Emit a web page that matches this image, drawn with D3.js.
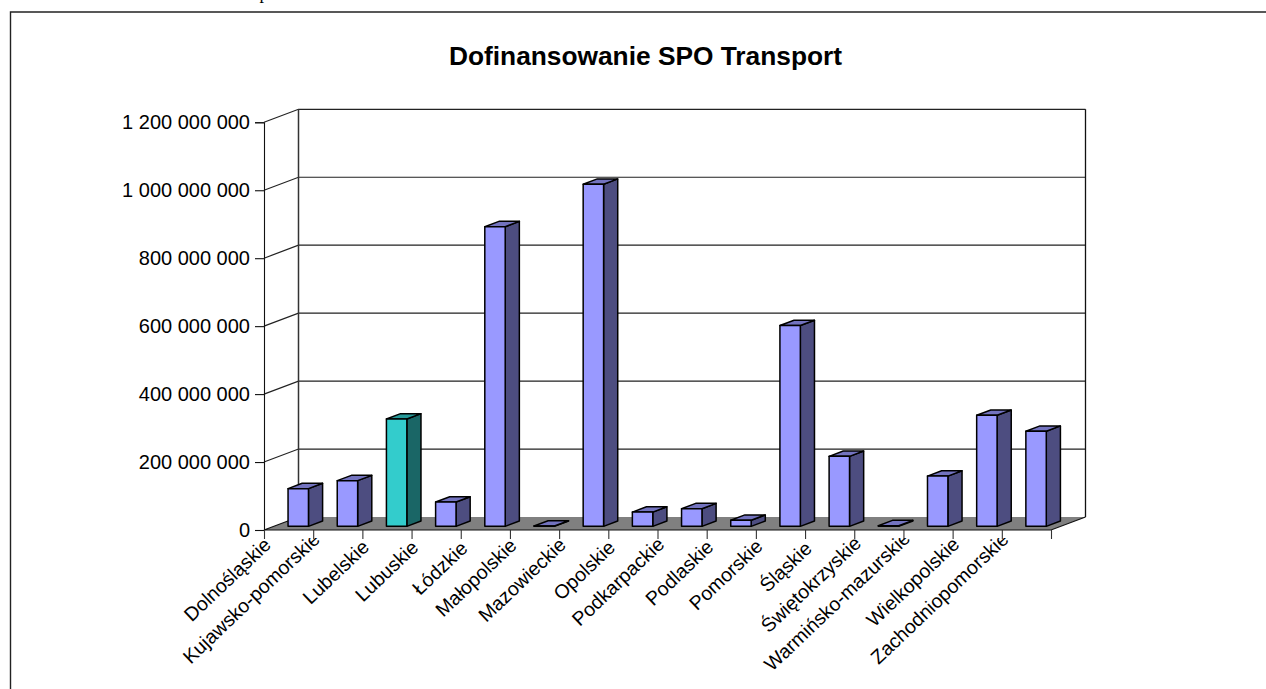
<!DOCTYPE html>
<html>
<head>
<meta charset="utf-8">
<script src="https://d3js.org/d3.v7.min.js"></script>
<style>
    html, body { margin: 0; padding: 0; background: #fff; overflow: hidden; }
    svg { display: block; }
    text { font-family: "Liberation Sans", Arial, sans-serif; fill: #000; }
</style>
</head>
<body>
<div id="chart"></div>
<script>
    var WIDTH = 1266;
    var HEIGHT = 689;
    var DEPTH_X = 34.5;
    var DEPTH_Y = 13;
    var BAR_WIDTH = 0.415;   // share of a category band
    var BAR_Z0 = 0.28;       // front of a bar inside the floor depth
    var BAR_Z1 = 0.69;       // back of a bar
    var LABEL_ANGLE = -43.5;
    var LABEL_CLIP_Y = 538;  // category labels get cut off just under the ticks

    var title = 'Dofinansowanie SPO Transport';
    var categories = ['Dolnośląskie', 'Kujawsko-pomorskie', 'Lubelskie', 'Lubuskie', 'Łódzkie', 'Małopolskie',
        'Mazowieckie', 'Opolskie', 'Podkarpackie', 'Podlaskie', 'Pomorskie', 'Śląskie', 'Świętokrzyskie',
        'Warmińsko-mazurskie', 'Wielkopolskie', 'Zachodniopomorskie'];
    var funding = [111000000, 134500000, 316000000, 71500000, 882000000, 1000000, 1007000000, 42000000,
        52000000, 18000000, 591000000, 206000000, 2000000, 148000000, 327000000, 280000000];
    var yTicks = [0, 200000000, 400000000, 600000000, 800000000, 1000000000, 1200000000];
    var highlighted = ['Lubelskie'];

    var fmt = d3.formatLocale({ decimal: ',', thousands: ' ', grouping: [3], currency: ['', ''] }).format(',d');

    var svg = d3.select('#chart').append('svg')
        .attr('width', WIDTH)
        .attr('height', HEIGHT);

    var x = d3.scaleLinear().domain([0, categories.length]).range([264, 1051]);
    var y = d3.scaleLinear().domain([0, 1200000000]).range([530, 122.3]);

    // position in the box: i along the categories, v up the value axis, z into the depth (0-1)
    function project(i, v, z) {
        return [x(i) + z * DEPTH_X, y(v) - z * DEPTH_Y];
    }
    var poly = d3.line();

    // cut off line of text above the frame
    svg.append('text')
        .attr('x', 264)
        .attr('y', -1.5)
        .attr('text-anchor', 'middle')
        .style('font-family', '"Liberation Serif", serif')
        .style('font-size', '18px')
        .text('p');

    // outer frame, runs off the right and bottom edge
    svg.append('path')
        .attr('d', 'M10.5,' + HEIGHT + 'V12H' + WIDTH)
        .attr('fill', 'none')
        .attr('stroke', '#222')
        .attr('stroke-width', 1.4);

    svg.append('text')
        .attr('x', 645.5)
        .attr('y', 65)
        .attr('text-anchor', 'middle')
        .style('font-size', '26.3px')
        .style('font-weight', 'bold')
        .text(title);

    var n = categories.length;
    var maxV = yTicks[yTicks.length - 1];

    // gridlines on the back wall and the left wall
    svg.append('g').selectAll('path')
        .data(yTicks.slice(1))
        .enter()
        .append('path')
        .attr('d', function (d) { return poly([project(0, d, 0), project(0, d, 1), project(n, d, 1)]); })
        .attr('fill', 'none')
        .attr('stroke', '#222')
        .attr('stroke-width', 1.2);

    svg.append('path')
        .attr('d', poly([project(0, 0, 1), project(0, maxV, 1)]))
        .attr('stroke', '#333')
        .attr('stroke-width', 1.5);
    svg.append('path')
        .attr('d', poly([project(n, 0, 1), project(n, maxV, 1)]))
        .attr('stroke', '#111')
        .attr('stroke-width', 1.3);

    // floor
    svg.append('path')
        .attr('d', poly([project(0, 0, 0), project(n, 0, 0), project(n, 0, 1), project(0, 0, 1)]) + 'Z')
        .attr('fill', '#808080');
    svg.append('path')
        .attr('d', poly([project(0, 0, 1), project(0, 0, 0), project(n, 0, 0), project(n, 0, 1)]))
        .attr('fill', 'none')
        .attr('stroke', '#111')
        .attr('stroke-width', 1.2);

    // bars
    var bars = svg.append('g').selectAll('g')
        .data(categories)
        .enter()
        .append('g')
        .attr('stroke', '#000')
        .attr('stroke-width', 1.5)
        .attr('stroke-linejoin', 'round');

    function barColor(name, normal, hi) {
        return highlighted.indexOf(name) >= 0 ? hi : normal;
    }
    function left(i) { return i + 0.5 - BAR_WIDTH / 2; }
    function right(i) { return i + 0.5 + BAR_WIDTH / 2; }

    bars.append('path')
        .attr('fill', function (d) { return barColor(d, '#4D4D80', '#1A6666'); })
        .attr('d', function (d, i) {
            return poly([project(right(i), 0, BAR_Z0), project(right(i), 0, BAR_Z1),
                project(right(i), funding[i], BAR_Z1), project(right(i), funding[i], BAR_Z0)]) + 'Z';
        });
    bars.append('path')
        .attr('fill', function (d) { return barColor(d, '#7373BF', '#269999'); })
        .attr('d', function (d, i) {
            return poly([project(left(i), funding[i], BAR_Z0), project(right(i), funding[i], BAR_Z0),
                project(right(i), funding[i], BAR_Z1), project(left(i), funding[i], BAR_Z1)]) + 'Z';
        });
    bars.append('path')
        .attr('fill', function (d) { return barColor(d, '#9999FF', '#33CCCC'); })
        .attr('d', function (d, i) {
            return poly([project(left(i), 0, BAR_Z0), project(right(i), 0, BAR_Z0),
                project(right(i), funding[i], BAR_Z0), project(left(i), funding[i], BAR_Z0)]) + 'Z';
        });

    // value axis
    var yAxis = svg.append('g')
        .attr('transform', 'translate(264,0)')
        .call(d3.axisLeft(y).tickValues(yTicks).tickFormat(fmt).tickSize(9).tickPadding(5));
    yAxis.selectAll('path, line').attr('stroke', '#111').attr('stroke-width', 1.1);
    yAxis.selectAll('text').style('font-size', '20px').style('font-family', '"Liberation Sans", Arial, sans-serif');

    // category axis
    var xAxis = svg.append('g')
        .attr('transform', 'translate(0,530)')
        .call(d3.axisBottom(x).tickValues(d3.range(n + 1)).tickSizeOuter(0).tickSize(9)
            .tickFormat(function (i) { return categories[i] || ''; }));
    xAxis.select('.domain').remove();
    xAxis.selectAll('line').attr('stroke', '#333').attr('stroke-width', 1.1);

    svg.append('clipPath')
        .attr('id', 'label-clip')
        .append('rect')
        .attr('x', 0)
        .attr('y', LABEL_CLIP_Y - 530)
        .attr('width', WIDTH)
        .attr('height', HEIGHT);

    // the tick groups are moved along x only, so the clip goes on a wrapper around the text
    xAxis.selectAll('.tick').each(function () {
        var tick = d3.select(this);
        var tx = x(tick.datum());
        var wrap = tick.append('g')
            .attr('transform', 'translate(' + (-tx) + ',0)')
            .attr('clip-path', 'url(#label-clip)');
        var label = tick.select('text').remove();
        var node = wrap.append(function () { return label.node(); })
            .style('font-size', '19.5px')
            .style('font-family', '"Liberation Sans", Arial, sans-serif')
            .attr('text-anchor', 'end')
            .attr('dy', 0)
            .attr('y', 0);
        // long labels sit higher up than short ones
        var len = node.node().getComputedTextLength();
        var lift = Math.max(0, len - 65) * 0.08;
        node.attr('transform', 'translate(' + (tx + 7.5) + ',' + (20 - lift) + ') rotate(' + LABEL_ANGLE + ')');
    });
</script>
</body>
</html>
